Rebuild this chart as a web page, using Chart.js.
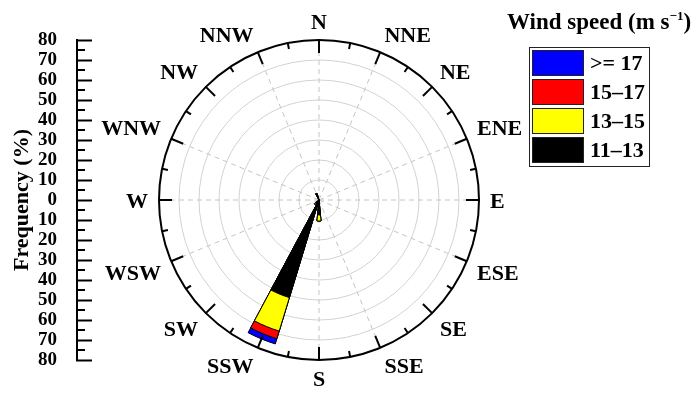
<!DOCTYPE html>
<html>
<head>
<meta charset="utf-8">
<script src="https://cdn.jsdelivr.net/npm/chart.js@4.4.1/dist/chart.umd.min.js"></script>
<style>
  body { margin: 0; background: #fff; }
  #wrap { position: relative; width: 698px; height: 398px; font-family: "Liberation Serif", serif; font-weight: bold; color: #000; }
  #chartBox { position: absolute; left: 0; top: 0; width: 698px; height: 398px; }
  #legendTitle { position: absolute; left: 507px; top: 11px; font-size: 23px; line-height: 22px; white-space: nowrap; }
  #legendTitle sup { font-size: 13px; line-height: 0; vertical-align: 9px; }
  #legend { position: absolute; left: 529px; top: 47px; width: 121px; box-sizing: border-box; border: 1px solid #222; padding: 2px 2px 0 2px; }
  .item { display: flex; align-items: center; height: 26px; margin-bottom: 3px; font-size: 22px; }
  .swatch { width: 50px; height: 24px; border: 1px solid #222; margin-right: 6px; }
</style>
</head>
<body>
<div id="wrap">
  <div id="chartBox"><canvas id="myChart"></canvas></div>
  <div id="legendTitle">Wind speed (m s<sup>−1</sup>)</div>
  <div id="legend"></div>
</div>
<script>
const directions = ['N', 'NNE', 'NE', 'ENE', 'E', 'ESE', 'SE', 'SSE', 'S', 'SSW', 'SW', 'WSW', 'W', 'WNW', 'NW', 'NNW'];
const speedClasses = ['11–13', '13–15', '15–17', '>= 17'];
const classColors = ['#000000', '#ffff00', '#ff0000', '#0000ff'];
// frequency (%) per direction       N  NNE NE ENE E ESE SE SSE  S    SSW  SW WSW W WNW NW NNW
const freq11to13 = [0, 0, 0, 0, 0, 0, 0, 0, 7.5, 51, 2, 0, 0, 0, 0, 3.5];
const freq13to15 = [0, 0, 0, 0, 0, 0, 0, 0, 3, 17.5, 1, 0, 0, 0, 0, 0];
const freq15to17 = [0, 0, 0, 0, 0, 0, 0, 0, 0, 4, 0, 0, 0, 0, 0, 0];
const freq17plus = [0, 0, 0, 0, 0, 0, 0, 0, 0, 2.7, 0, 0, 0, 0, 0, 0];
const freqMax = 80;
const freqStep = 10;

const classFreqs = [freq11to13, freq13to15, freq15to17, freq17plus];
// every direction gets a bar slot followed by an empty slot, so bars are half a sector wide
const slotLabels = directions.flatMap(d => [d, '']);
const HALF_SLOT = Math.PI / slotLabels.length;
const serif = '"Liberation Serif", "Times New Roman", serif';

// stacked wind rose: each class drawn as cumulative radius, smaller ones on top
let running = directions.map(() => 0);
const datasets = classFreqs.map((freqs, c) => {
  running = running.map((v, k) => v + freqs[k]);
  return {
    label: speedClasses[c],
    data: running.flatMap(v => [v, 0]),
    backgroundColor: classColors[c],
    borderColor: '#000',
    borderWidth: ctx => ctx.raw > 0 ? 1 : 0
  };
});

const roseFrame = {
  id: 'roseFrame',
  beforeDatasetsDraw(chart) {
    const {ctx, scales: {r}} = chart;
    ctx.save();
    ctx.strokeStyle = '#c4c4c4';
    ctx.lineWidth = 1;
    ctx.setLineDash([5, 4]);
    directions.forEach((d, k) => {
      if (k % 4 === 2) return; // no spokes on the diagonals
      const p = r.getPointPosition(2 * k, r.drawingArea, HALF_SLOT);
      ctx.beginPath();
      ctx.moveTo(r.xCenter, r.yCenter);
      ctx.lineTo(p.x, p.y);
      ctx.stroke();
    });
    ctx.restore();
  },
  afterDraw(chart) {
    const {ctx, scales: {r, y}} = chart;
    ctx.save();
    ctx.strokeStyle = '#000';
    ctx.lineWidth = 2;
    slotLabels.forEach((s, i) => {
      const len = i % 2 ? 6 : 13;
      const a = r.getPointPosition(i, r.drawingArea, HALF_SLOT);
      const b = r.getPointPosition(i, r.drawingArea - len, HALF_SLOT);
      ctx.beginPath();
      ctx.moveTo(a.x, a.y);
      ctx.lineTo(b.x, b.y);
      ctx.stroke();
    });
    // minor ticks of the frequency axis
    for (let v = -freqMax + freqStep / 2; v < freqMax; v += freqStep) {
      const py = y.getPixelForValue(v);
      ctx.beginPath();
      ctx.moveTo(y.right, py);
      ctx.lineTo(y.right + 8, py);
      ctx.stroke();
    }
    // compass labels
    ctx.fillStyle = '#000';
    ctx.font = 'bold 22px ' + serif;
    ctx.textBaseline = 'alphabetic';
    const capH = 15;
    directions.forEach((name, k) => {
      const deg = k * 360 / directions.length;
      const p = r.getPointPosition(2 * k, r.drawingArea + 11, HALF_SLOT);
      const w = ctx.measureText(name).width;
      const x = (deg === 0 || deg === 180) ? p.x - w / 2 : deg < 180 ? p.x : p.x - w;
      const yy = (deg === 90 || deg === 270) ? p.y + capH / 2 : (deg > 90 && deg < 270) ? p.y + capH : p.y;
      ctx.fillText(name, x, yy);
    });
    ctx.restore();
  }
};

const chart = new Chart(document.getElementById('myChart'), {
  type: 'polarArea',
  data: { labels: slotLabels, datasets: datasets },
  options: {
    responsive: true,
    maintainAspectRatio: false,
    animation: false,
    events: [],
    layout: { padding: { left: 0, right: 137, top: 40, bottom: 38 } },
    plugins: { legend: { display: false }, tooltip: { enabled: false } },
    scales: {
      r: {
        min: 0,
        max: freqMax,
        startAngle: -180 / slotLabels.length,
        ticks: { display: false, stepSize: freqStep },
        grid: {
          circular: true,
          color: c => c.tick.value === freqMax ? '#000' : '#d2d2d2',
          lineWidth: c => c.tick.value === freqMax ? 2 : 1
        },
        angleLines: { display: false },
        pointLabels: { display: false }
      },
      y: {
        type: 'linear',
        position: 'left',
        min: -freqMax,
        max: freqMax,
        // fixed axis width; the layout padding already leaves room for the end labels
        afterFit: s => { s.width = 77; s.paddingTop = 0; s.paddingBottom = 0; },
        border: { color: '#000', width: 2 },
        grid: { drawOnChartArea: false, tickLength: -15, tickWidth: 2, tickColor: '#000' },
        ticks: {
          stepSize: freqStep,
          autoSkip: false,
          padding: 35,
          color: '#000',
          font: { family: serif, size: 19, weight: 'bold', lineHeight: 1 },
          callback: v => Math.abs(v)
        },
        title: {
          display: true,
          text: 'Frequency (%)',
          color: '#000',
          font: { family: serif, size: 22, weight: 'bold', lineHeight: 1.2 },
          padding: { top: 9, bottom: 0 }
        }
      }
    }
  },
  plugins: [roseFrame]
});

// legend, largest class first
const legendBox = document.getElementById('legend');
speedClasses.slice().reverse().forEach((name, i) => {
  const c = speedClasses.length - 1 - i;
  const row = document.createElement('div');
  row.className = 'item';
  const sw = document.createElement('span');
  sw.className = 'swatch';
  sw.style.background = classColors[c];
  const txt = document.createElement('span');
  txt.textContent = name;
  row.appendChild(sw);
  row.appendChild(txt);
  legendBox.appendChild(row);
});
</script>
</body>
</html>
